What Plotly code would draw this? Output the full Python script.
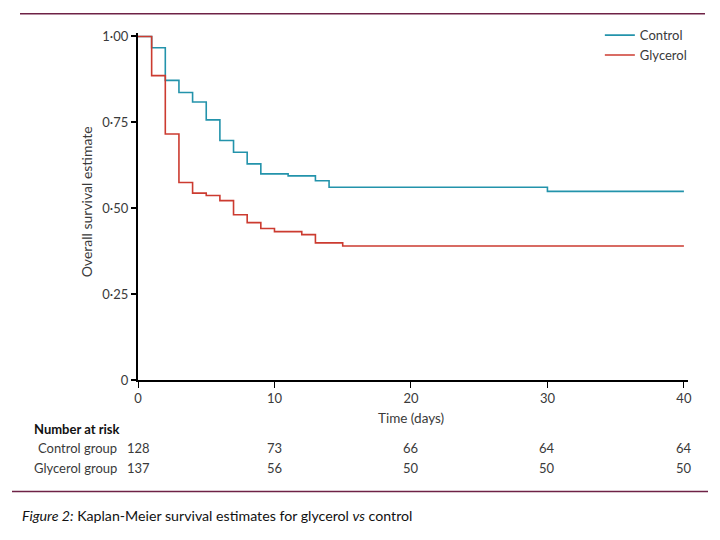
import plotly.graph_objects as go

# Kaplan-Meier step data (time in days, survival estimate)
control_t = [0, 1, 2, 3, 4, 5, 6, 7, 8, 9, 11, 13, 14, 30, 40]
control_s = [1.00, 0.967, 0.872, 0.837, 0.809, 0.757, 0.697, 0.663, 0.629, 0.600, 0.594, 0.580, 0.561, 0.549, 0.549]

glycerol_t = [0, 1, 2, 3, 4, 5, 6, 7, 8, 9, 10, 12, 13, 15, 40]
glycerol_s = [1.00, 0.886, 0.716, 0.575, 0.544, 0.537, 0.522, 0.481, 0.458, 0.441, 0.432, 0.423, 0.399, 0.390, 0.390]

# Number at risk table
risk_times = [0, 10, 20, 30, 40]
control_risk = [128, 73, 66, 64, 64]
glycerol_risk = [137, 56, 50, 50, 50]

y_ticks = [0, 0.25, 0.5, 0.75, 1.0]
y_tick_labels = ["0", "0·25", "0·50", "0·75", "1·00"]
x_ticks = [0, 10, 20, 30, 40]

CONTROL_COLOR = "#2393ab"
GLYCEROL_COLOR = "#cc3b30"
FONT = "Lato, 'Liberation Sans Narrow', 'Open Sans', sans-serif"
TEXT = "#3a3a3a"
RULE = "#6e2246"

fig = go.Figure()
fig.add_trace(go.Scatter(x=control_t, y=control_s, mode="lines", line=dict(shape="hv", color=CONTROL_COLOR, width=1.6),
                         name="Control", legendrank=1))
fig.add_trace(go.Scatter(x=glycerol_t, y=glycerol_s, mode="lines", line=dict(shape="hv", color=GLYCEROL_COLOR, width=1.6),
                         name="Glycerol", legendrank=2))

# plot-area geometry (figure pixels; page body adds ~8px offset)
L, R, T, B = 130, 40, 20.5, 168
W = 720 - L - R
H = 540 - T - B

def py(screen_y):
    return (540 - B + 8 - screen_y) / H

def pxx(screen_x):
    return (screen_x - 8 - L) / W

def txt(text, x, y, xref="paper", xanchor="center", size=13, color=TEXT, **kw):
    return dict(text=text, x=x, y=y, xref=xref, yref="paper", xanchor=xanchor, yanchor="middle",
                showarrow=False, font=dict(size=size, color=color, family=FONT), **kw)

ann = []
ann.append(txt("Overall survival estimate", pxx(86), py(200), size=14, textangle=-90))
ann.append(txt("Time (days)", 20, py(418), xref="x", size=13.5))
ann.append(txt("<b>Number at risk</b>", pxx(32), py(430), xanchor="left", color="#111111"))
ann.append(txt("Control group", pxx(119), py(449), xanchor="right"))
ann.append(txt("Glycerol group", pxx(119), py(469), xanchor="right"))
for t, c, g in zip(risk_times, control_risk, glycerol_risk):
    ann.append(txt(str(c), t, py(449), xref="x"))
    ann.append(txt(str(g), t, py(469), xref="x"))
ann.append(txt("<i>Figure 2:</i> Kaplan-Meier survival estimates for glycerol <i>vs</i> control",
               pxx(20), py(517), xanchor="left", size=14.2, color="#111111"))

shapes = [
    dict(type="line", xref="paper", yref="paper", x0=pxx(20), x1=pxx(705), y0=py(9), y1=py(9),
         line=dict(color=RULE, width=1.5)),
    dict(type="line", xref="paper", yref="paper", x0=pxx(12), x1=pxx(708), y0=py(493), y1=py(493),
         line=dict(color=RULE, width=1.5)),
]

fig.update_layout(
    width=720, height=540,
    margin=dict(l=L, r=R, t=T, b=B, pad=0),
    paper_bgcolor="white", plot_bgcolor="white",
    font=dict(family=FONT, size=13, color=TEXT),
    showlegend=True,
    legend=dict(x=1.007, y=1.037, xanchor="right", yanchor="top", bgcolor="rgba(0,0,0,0)",
                font=dict(size=13, color=TEXT, family=FONT), itemwidth=30, tracegroupgap=0),
    annotations=ann,
    shapes=shapes,
    xaxis=dict(range=[0, 40.3], tickvals=x_ticks, showgrid=False, zeroline=False,
               showline=True, linecolor="black", linewidth=1.5, ticks="outside", ticklen=6,
               tickwidth=1, tickcolor="black", tickfont=dict(size=13, color=TEXT, family=FONT)),
    yaxis=dict(range=[0, 1.01], tickvals=y_ticks, ticktext=y_tick_labels, showgrid=False, zeroline=False,
               showline=True, linecolor="black", linewidth=2.2, ticks="outside", ticklen=5,
               tickwidth=2, tickcolor="black", tickfont=dict(size=13, color=TEXT, family=FONT)),
)

fig.write_html("out.html")
